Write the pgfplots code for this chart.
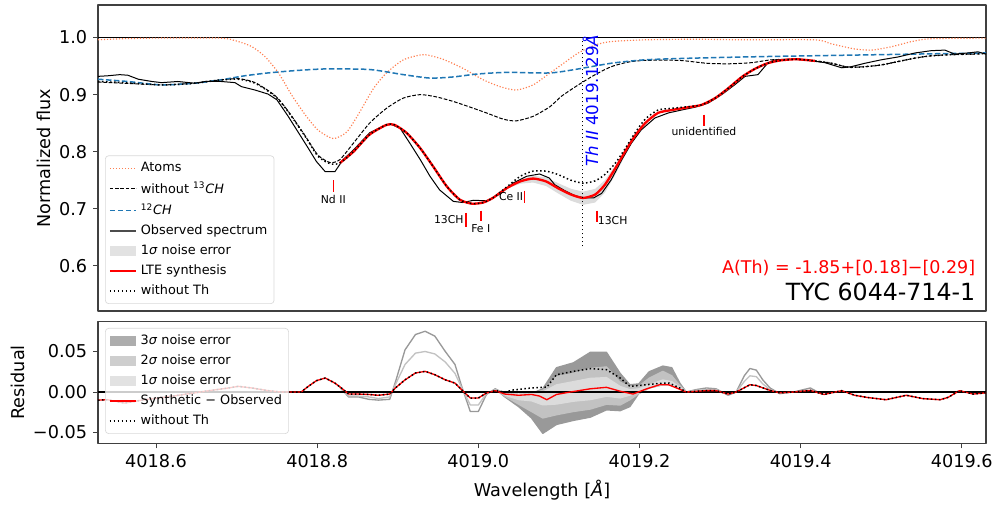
\documentclass[border=0pt]{standalone}
\usepackage{fontspec}
\setmainfont{DejaVu Sans}
\usepackage{pgfplots}
\pgfplotsset{compat=1.18}
\definecolor{coralc}{HTML}{FF7F50}
\definecolor{cblue}{HTML}{1F77B4}
\definecolor{g3}{HTML}{999999}
\definecolor{g2}{HTML}{C2C2C2}
\definecolor{g1}{HTML}{DCDCDC}
\definecolor{axgray}{HTML}{404040}
\definecolor{tickred}{HTML}{FF0000}
\pgfplotsset{
  myline/.style={legend image code/.code={\draw[##1] (0pt,0pt) -- (16pt,0pt);}},
  mypatch/.style={legend image code/.code={\path[##1, draw=none, sharp corners] (0pt,-3pt) rectangle (16pt,3pt);}},
  common/.style={
    scale only axis, width=532.8pt,
    xmin=4018.528, xmax=4019.630,
    tick align=outside, major tick length=3pt,
    axis line style={axgray, line width=0.8pt},
    every tick/.style={axgray, line width=0.6pt},
    tick label style={font=\fontsize{10.6}{12.7}\selectfont},
    label style={font=\fontsize{10.6}{12.7}\selectfont},
    scaled y ticks=false, scaled x ticks=false,
    myline,
    legend cell align=left,
    legend style={font=\fontsize{7.7}{9.2}\selectfont, draw=black!15, rounded corners=2pt,
      fill=white, fill opacity=0.8, text opacity=1, draw opacity=1, inner sep=2pt,
      row sep=0.6pt},
    line join=round,
  },
}
\begin{document}
\begin{tikzpicture}
% ================= TOP PANEL =================
\begin{axis}[common,
  at={(0pt,0pt)}, anchor=south west, height=183.6pt,
  ymin=0.521, ymax=1.057,
  xtick=\empty,
  ytick={0.6,0.7,0.8,0.9,1.0}, yticklabels={0.6,0.7,0.8,0.9,1.0},
  ytick pos=left,
  ylabel={Normalized flux},
  ylabel style={at={(axis description cs:-0.0614,0.5)}, anchor=center},
  legend style={at={(rel axis cs:0.0079,0.0229)}, anchor=south west},
]
\addlegendimage{coralc, line width=0.7pt, dash pattern=on 0.7pt off 1.1pt}
\addlegendentry{Atoms}
\addlegendimage{black, line width=0.6pt, dash pattern=on 2.2pt off 1pt}
\addlegendentry{without \textsuperscript{13}\textit{CH}}
\addlegendimage{cblue, line width=0.9pt, dash pattern=on 3.3pt off 1.5pt}
\addlegendentry{\textsuperscript{12}\textit{CH}}
\addlegendimage{black!70, line width=0.9pt}
\addlegendentry{Observed spectrum}
\addlegendimage{mypatch, fill=g1}
\addlegendentry{1\textit{σ} noise error}
\addlegendimage{red, line width=1.3pt}
\addlegendentry{LTE synthesis}
\addlegendimage{black, line width=0.9pt, dash pattern=on 0.9pt off 1.5pt}
\addlegendentry{without Th}

% line at 1.0
\addplot[black, line width=0.8pt, forget plot] coordinates {(4018.528,1) (4019.630,1)};

% Atoms
\addplot[coralc, line width=0.7pt, dash pattern=on 0.7pt off 1.1pt, forget plot, smooth, tension=0.4] coordinates {
(4018.528,0.996) (4018.560,0.998) (4018.600,0.999) (4018.680,0.999) (4018.702,0.993)
(4018.719,0.984) (4018.735,0.967) (4018.752,0.938) (4018.768,0.900) (4018.785,0.865)
(4018.801,0.838) (4018.820,0.823) (4018.837,0.835) (4018.853,0.870) (4018.870,0.911)
(4018.886,0.938) (4018.907,0.961) (4018.932,0.970) (4018.956,0.962) (4018.981,0.946)
(4019.006,0.926) (4019.027,0.914) (4019.047,0.908) (4019.068,0.917) (4019.089,0.938)
(4019.103,0.952) (4019.124,0.973) (4019.145,0.987) (4019.165,0.993) (4019.207,0.996)
(4019.269,0.997) (4019.330,0.996) (4019.418,0.996) (4019.438,0.989) (4019.467,0.980)
(4019.488,0.978) (4019.513,0.984) (4019.538,0.993) (4019.562,0.998) (4019.630,0.999)};

% without 13CH
\addplot[black, line width=0.6pt, dash pattern=on 2.2pt off 1pt, forget plot, smooth, tension=0.4] coordinates {
(4018.528,0.922) (4018.560,0.920) (4018.607,0.917) (4018.648,0.920) (4018.675,0.925)
(4018.702,0.928) (4018.723,0.921) (4018.748,0.898) (4018.764,0.871) (4018.785,0.828)
(4018.801,0.794) (4018.816,0.781) (4018.828,0.786) (4018.845,0.815) (4018.865,0.850)
(4018.886,0.876) (4018.907,0.894) (4018.928,0.900) (4018.948,0.896) (4018.969,0.888)
(4018.990,0.878) (4019.010,0.868) (4019.031,0.857) (4019.047,0.854) (4019.068,0.862)
(4019.089,0.879) (4019.103,0.897) (4019.124,0.917) (4019.145,0.935) (4019.165,0.949)
(4019.186,0.957) (4019.207,0.960) (4019.249,0.960) (4019.283,0.955) (4019.310,0.954)
(4019.339,0.956) (4019.364,0.961) (4019.395,0.962) (4019.418,0.959) (4019.438,0.955)
(4019.459,0.948) (4019.480,0.949) (4019.500,0.952) (4019.521,0.958) (4019.542,0.964)
(4019.562,0.968) (4019.587,0.970) (4019.612,0.971) (4019.630,0.972)};

% 12CH
\addplot[cblue, line width=0.9pt, dash pattern=on 3.3pt off 1.5pt, forget plot, smooth, tension=0.4] coordinates {
(4018.528,0.927) (4018.565,0.923) (4018.607,0.917) (4018.648,0.920) (4018.681,0.926)
(4018.710,0.933) (4018.739,0.938) (4018.772,0.942) (4018.810,0.945) (4018.865,0.944)
(4018.907,0.935) (4018.940,0.929) (4018.969,0.931) (4018.998,0.936) (4019.035,0.939)
(4019.089,0.938) (4019.124,0.945) (4019.165,0.955) (4019.207,0.961) (4019.269,0.964)
(4019.368,0.967) (4019.630,0.973)};

% 1 sigma band (top)
\addplot[fill=g1, draw=none, forget plot] coordinates {
(4019.035,0.737) (4019.052,0.751) (4019.068,0.758) (4019.084,0.755) (4019.099,0.745)
(4019.115,0.735) (4019.130,0.730) (4019.145,0.735) (4019.157,0.750) (4019.170,0.776)
(4019.182,0.803) (4019.194,0.828)
(4019.194,0.825) (4019.182,0.793) (4019.170,0.760) (4019.157,0.728) (4019.145,0.711)
(4019.130,0.707) (4019.115,0.714) (4019.099,0.727) (4019.084,0.740) (4019.068,0.746)
(4019.052,0.744) (4019.035,0.735)} --cycle;

% Observed
\addplot[black, line width=0.6pt, forget plot] coordinates {
(4018.528,0.932) (4018.540,0.933) (4018.555,0.935) (4018.565,0.934) (4018.578,0.927)
(4018.595,0.923) (4018.607,0.921) (4018.627,0.923) (4018.648,0.920) (4018.661,0.923)
(4018.681,0.923) (4018.698,0.921) (4018.706,0.914) (4018.723,0.908) (4018.739,0.901)
(4018.750,0.891) (4018.764,0.862) (4018.781,0.824) (4018.789,0.806) (4018.799,0.783)
(4018.810,0.765) (4018.822,0.765) (4018.832,0.786) (4018.845,0.803) (4018.865,0.833)
(4018.882,0.845) (4018.890,0.849) (4018.903,0.841) (4018.915,0.815) (4018.928,0.786)
(4018.940,0.757) (4018.952,0.733) (4018.969,0.713) (4018.981,0.711) (4018.994,0.715)
(4019.010,0.714) (4019.027,0.726) (4019.043,0.745) (4019.060,0.757) (4019.076,0.761)
(4019.088,0.754) (4019.095,0.742) (4019.107,0.732) (4019.120,0.723) (4019.132,0.719)
(4019.143,0.719) (4019.153,0.727) (4019.165,0.751) (4019.178,0.786) (4019.190,0.815)
(4019.202,0.838) (4019.219,0.859) (4019.236,0.868) (4019.252,0.873) (4019.269,0.878)
(4019.285,0.885) (4019.302,0.900) (4019.318,0.917) (4019.331,0.932) (4019.347,0.935)
(4019.359,0.955) (4019.368,0.961) (4019.389,0.962) (4019.409,0.960) (4019.430,0.956)
(4019.451,0.947) (4019.463,0.949) (4019.480,0.955) (4019.500,0.961) (4019.521,0.966)
(4019.542,0.973) (4019.562,0.977) (4019.579,0.978) (4019.591,0.971) (4019.608,0.973)
(4019.620,0.975) (4019.630,0.971)};

% LTE synthesis
\addplot[red, line width=1.4pt, forget plot, smooth, tension=0.4] coordinates {
(4018.828,0.780) (4018.845,0.800) (4018.865,0.830) (4018.886,0.847) (4018.896,0.847)
(4018.911,0.833) (4018.928,0.806) (4018.944,0.774) (4018.961,0.739) (4018.977,0.716)
(4018.992,0.709) (4019.006,0.711) (4019.018,0.719) (4019.035,0.736) (4019.052,0.748)
(4019.068,0.753) (4019.084,0.748) (4019.099,0.736) (4019.115,0.725) (4019.130,0.719)
(4019.145,0.725) (4019.157,0.742) (4019.170,0.771) (4019.182,0.800) (4019.194,0.827)
(4019.207,0.850) (4019.223,0.868) (4019.240,0.873) (4019.261,0.878) (4019.277,0.882)
(4019.294,0.894) (4019.310,0.911) (4019.327,0.931) (4019.343,0.945) (4019.359,0.955)
(4019.375,0.960) (4019.395,0.962) (4019.418,0.959)};

% without Th
\addplot[black, line width=0.9pt, dash pattern=on 0.9pt off 1.5pt, forget plot, smooth, tension=0.4] coordinates {
(4018.528,0.923) (4018.560,0.921) (4018.607,0.917) (4018.648,0.920) (4018.675,0.925)
(4018.702,0.927) (4018.723,0.920) (4018.748,0.897) (4018.764,0.870) (4018.785,0.827)
(4018.801,0.792) (4018.816,0.779) (4018.828,0.780) (4018.845,0.800) (4018.865,0.830)
(4018.886,0.847) (4018.896,0.847) (4018.911,0.833) (4018.928,0.806) (4018.944,0.774)
(4018.961,0.739) (4018.977,0.716) (4018.992,0.709) (4019.006,0.711) (4019.018,0.719)
(4019.035,0.738) (4019.052,0.757) (4019.068,0.766) (4019.084,0.766) (4019.099,0.760)
(4019.115,0.750) (4019.130,0.745) (4019.145,0.749) (4019.157,0.760) (4019.170,0.780)
(4019.182,0.805) (4019.194,0.832) (4019.207,0.857) (4019.223,0.873) (4019.240,0.876)
(4019.261,0.879) (4019.277,0.882) (4019.294,0.894) (4019.310,0.911) (4019.327,0.931)
(4019.343,0.945) (4019.359,0.955) (4019.375,0.960) (4019.395,0.962) (4019.418,0.959)
(4019.438,0.955) (4019.459,0.948) (4019.480,0.949) (4019.500,0.952) (4019.521,0.958)
(4019.542,0.964) (4019.562,0.968) (4019.587,0.970) (4019.612,0.971) (4019.630,0.972)};

% Th II line
\addplot[black, line width=0.9pt, dash pattern=on 0.9pt off 1.5pt, forget plot] coordinates {(4019.129,0.634) (4019.129,0.998)};
\node[rotate=90, anchor=north west, inner sep=0pt, text=blue, font=\fontsize{10}{12}\selectfont]
  at (axis cs:4019.129,0.773) {\textit{Th II} 4019.129\textit{Å}};

% line identification ticks
\addplot[tickred, line width=0.9pt, forget plot] coordinates {(4018.8205,0.750) (4018.8205,0.729)};
\addplot[tickred, line width=0.9pt, forget plot] coordinates {(4018.9845,0.693) (4018.9845,0.668)};
\addplot[tickred, line width=0.9pt, forget plot] coordinates {(4019.003,0.697) (4019.003,0.678)};
\addplot[tickred, line width=0.9pt, forget plot] coordinates {(4019.057,0.732) (4019.057,0.711)};
\addplot[tickred, line width=0.9pt, forget plot] coordinates {(4019.147,0.697) (4019.147,0.677)};
\addplot[tickred, line width=0.9pt, forget plot] coordinates {(4019.280,0.865) (4019.280,0.845)};
\begin{scope}[every node/.style={inner sep=0pt, font=\fontsize{6.5}{7.8}\selectfont}]
\node[anchor=center] at (axis cs:4018.820,0.716) {Nd II};
\node[anchor=east] at (axis cs:4018.982,0.682) {13CH};
\node[anchor=center] at (axis cs:4019.003,0.666) {Fe I};
\node[anchor=east] at (axis cs:4019.056,0.722) {Ce II};
\node[anchor=west] at (axis cs:4019.148,0.679) {13CH};
\node[anchor=center] at (axis cs:4019.280,0.836) {unidentified};
\end{scope}
\node[anchor=east, inner sep=0pt, text=red, font=\fontsize{10.5}{12.6}\selectfont]
  at (axis cs:4019.617,0.597) {A(Th) = -1.85+[0.18]−[0.29]};
\node[anchor=east, inner sep=0pt, font=\fontsize{14.2}{17}\selectfont]
  at (axis cs:4019.617,0.554) {TYC 6044-714-1};
\end{axis}

% ================= BOTTOM PANEL =================
\begin{axis}[common,
  at={(0pt,-6.4pt)}, anchor=north west, height=73pt,
  ymin=-0.0633, ymax=0.0868,
  xtick={4018.6,4018.8,4019.0,4019.2,4019.4,4019.6},
  xticklabels={4018.6,4018.8,4019.0,4019.2,4019.4,4019.6},
  ytick={-0.05,0,0.05}, yticklabels={−0.05,0.00,0.05},
  xtick pos=bottom, ytick pos=left,
  xlabel={Wavelength [\textit{Å}]},
  xlabel style={at={(axis description cs:0.5,-0.384)}, anchor=center},
  ylabel={Residual},
  ylabel style={at={(axis description cs:-0.0907,0.5)}, anchor=center},
  legend style={at={(rel axis cs:0.0079,0.948)}, anchor=north west},
]
\addlegendimage{mypatch, fill=g3}
\addlegendentry{3\textit{σ} noise error}
\addlegendimage{mypatch, fill=g2}
\addlegendentry{2\textit{σ} noise error}
\addlegendimage{mypatch, fill=g1}
\addlegendentry{1\textit{σ} noise error}
\addlegendimage{red, line width=1.2pt}
\addlegendentry{Synthetic − Observed}
\addlegendimage{black, line width=0.9pt, dash pattern=on 0.9pt off 1.5pt}
\addlegendentry{without Th}

% 3 sigma
\addplot[fill=g3, draw=g3, line width=0.8pt, forget plot] coordinates {
(4018.828,0.006) (4018.839,-0.006) (4018.851,-0.006) (4018.864,-0.009) (4018.876,-0.010)
(4018.890,-0.009) (4018.897,0.012) (4018.909,0.052) (4018.922,0.071) (4018.934,0.075)
(4018.946,0.069) (4018.959,0.050) (4018.971,0.034) (4018.979,0.008) (4018.990,-0.024)
(4019.000,-0.024) (4019.010,-0.003) (4019.021,0.004) (4019.033,-0.002) (4019.050,-0.003)
(4019.066,-0.002) (4019.080,0.004) (4019.097,0.030) (4019.118,0.036) (4019.139,0.049)
(4019.159,0.049) (4019.176,0.023) (4019.188,0.009) (4019.199,0.010) (4019.212,0.025)
(4019.229,0.032) (4019.240,0.030) (4019.250,0.011) (4019.258,0.0)
(4019.250,0.004) (4019.240,0.009) (4019.229,0.009) (4019.212,0.005) (4019.199,-0.002)
(4019.188,-0.018) (4019.176,-0.023) (4019.159,-0.022) (4019.139,-0.031) (4019.118,-0.035)
(4019.097,-0.040) (4019.080,-0.051) (4019.066,-0.032) (4019.050,-0.018) (4019.033,-0.006)
(4019.021,0.004) (4019.010,-0.003) (4019.000,-0.024) (4018.990,-0.024) (4018.979,0.008)
(4018.971,0.034) (4018.959,0.050) (4018.946,0.069) (4018.934,0.075) (4018.922,0.071)
(4018.909,0.052) (4018.897,0.012) (4018.890,-0.009) (4018.876,-0.010) (4018.864,-0.009)
(4018.851,-0.006) (4018.839,-0.006)} --cycle;
\addplot[g3, line width=0.8pt, forget plot] coordinates {
(4019.258,0.0) (4019.270,0.003) (4019.283,0.005) (4019.295,0.004) (4019.310,-0.004)
(4019.320,0.0) (4019.330,0.020) (4019.337,0.029) (4019.345,0.027) (4019.353,0.015)
(4019.362,0.005) (4019.374,-0.002) (4019.391,0.0) (4019.412,0.005) (4019.425,-0.002)};

% 2 sigma
\addplot[fill=g2, draw=g2, line width=0.8pt, forget plot] coordinates {
(4018.828,0.006) (4018.839,-0.005) (4018.851,-0.005) (4018.864,-0.006) (4018.876,-0.008)
(4018.890,-0.006) (4018.897,0.009) (4018.909,0.034) (4018.922,0.048) (4018.934,0.050)
(4018.946,0.047) (4018.959,0.037) (4018.971,0.023) (4018.979,0.006) (4018.990,-0.016)
(4019.000,-0.016) (4019.010,-0.002) (4019.021,0.003) (4019.033,-0.002) (4019.050,-0.003)
(4019.066,-0.002) (4019.080,0.002) (4019.097,0.019) (4019.118,0.023) (4019.139,0.029)
(4019.159,0.031) (4019.176,0.012) (4019.188,0.007) (4019.199,0.007) (4019.212,0.017)
(4019.229,0.0255) (4019.240,0.020) (4019.250,0.008) (4019.258,0.0)
(4019.250,0.004) (4019.240,0.009) (4019.229,0.009) (4019.212,0.005) (4019.199,-0.002)
(4019.188,-0.0095) (4019.176,-0.016) (4019.159,-0.015) (4019.139,-0.021) (4019.118,-0.024)
(4019.097,-0.028) (4019.080,-0.032) (4019.066,-0.024) (4019.050,-0.015) (4019.033,-0.005)
(4019.021,0.003) (4019.010,-0.002) (4019.000,-0.016) (4018.990,-0.016) (4018.979,0.006)
(4018.971,0.023) (4018.959,0.037) (4018.946,0.047) (4018.934,0.050) (4018.922,0.048)
(4018.909,0.034) (4018.897,0.009) (4018.890,-0.006) (4018.876,-0.008) (4018.864,-0.006)
(4018.851,-0.005) (4018.839,-0.005)} --cycle;
\addplot[g2, line width=0.8pt, forget plot] coordinates {
(4019.258,0.0) (4019.270,0.002) (4019.283,0.003) (4019.295,0.003) (4019.310,-0.003)
(4019.320,0.0) (4019.330,0.013) (4019.337,0.020) (4019.345,0.019) (4019.353,0.010)
(4019.362,0.003) (4019.374,-0.001)};

% 1 sigma
\addplot[fill=g1, draw=g1, line width=0.6pt, forget plot] coordinates {
(4019.033,-0.002) (4019.050,-0.003) (4019.066,-0.002) (4019.080,0.0) (4019.097,0.009)
(4019.118,0.013) (4019.139,0.017) (4019.159,0.018) (4019.176,0.007) (4019.188,0.003)
(4019.199,0.004) (4019.212,0.009) (4019.229,0.015) (4019.240,0.013) (4019.250,0.006)
(4019.258,0.0)
(4019.250,0.004) (4019.240,0.009) (4019.229,0.009) (4019.212,0.005) (4019.199,-0.001)
(4019.188,-0.004) (4019.176,-0.0074) (4019.159,-0.0053) (4019.139,-0.0095) (4019.118,-0.0115)
(4019.097,-0.015) (4019.080,-0.016) (4019.066,-0.011) (4019.050,-0.0095) (4019.033,-0.004)} --cycle;

% zero line
\addplot[black, line width=1.1pt, forget plot] coordinates {(4018.528,0) (4019.630,0)};

% Synthetic - Observed
\addplot[red, line width=0.8pt, forget plot] coordinates {
(4018.528,-0.0099) (4018.540,-0.0095) (4018.561,-0.0136) (4018.586,-0.0095) (4018.628,-0.004)
(4018.661,0.001) (4018.690,0.005) (4018.702,0.007) (4018.719,0.005) (4018.739,0.0017)
(4018.755,0.0) (4018.780,0.0) (4018.789,0.007) (4018.799,0.014) (4018.810,0.0173)
(4018.822,0.011) (4018.830,0.005) (4018.839,-0.0025) (4018.851,-0.0025) (4018.864,-0.003)
(4018.876,-0.004) (4018.890,-0.0025) (4018.897,0.005) (4018.909,0.015) (4018.922,0.0235)
(4018.934,0.0255) (4018.946,0.0214) (4018.959,0.015) (4018.971,0.011) (4018.979,0.003)
(4018.990,-0.0074) (4019.000,-0.0074) (4019.010,-0.0012) (4019.021,0.0017) (4019.033,-0.0025)
(4019.050,-0.004) (4019.066,-0.003) (4019.076,-0.005) (4019.085,-0.0095) (4019.097,-0.003)
(4019.114,0.0) (4019.139,0.004) (4019.159,0.0058) (4019.176,0.001) (4019.192,-0.0025)
(4019.209,0.004) (4019.225,0.009) (4019.236,0.009) (4019.246,0.005) (4019.258,0.0)
(4019.283,0.0017) (4019.295,0.0017) (4019.310,-0.0025) (4019.320,0.0) (4019.337,0.009)
(4019.345,0.008) (4019.362,0.002) (4019.374,-0.001) (4019.391,0.0) (4019.412,0.002)
(4019.429,-0.003) (4019.451,0.0017) (4019.467,-0.004) (4019.482,-0.0066) (4019.506,-0.0095)
(4019.531,-0.004) (4019.552,-0.0082) (4019.573,-0.0095) (4019.583,-0.0066) (4019.597,0.0017)
(4019.614,-0.0025) (4019.630,-0.001)};

% without Th residual
\addplot[black, line width=0.9pt, dash pattern=on 0.9pt off 1.5pt, forget plot] coordinates {
(4018.528,-0.0099) (4018.540,-0.0095) (4018.561,-0.0136) (4018.586,-0.0095) (4018.628,-0.004)
(4018.661,0.001) (4018.690,0.005) (4018.702,0.007) (4018.719,0.005) (4018.739,0.0017)
(4018.755,0.0) (4018.780,0.0) (4018.789,0.007) (4018.799,0.014) (4018.810,0.0173)
(4018.822,0.011) (4018.830,0.005) (4018.839,-0.0025) (4018.851,-0.0025) (4018.864,-0.003)
(4018.876,-0.004) (4018.890,-0.0025) (4018.897,0.005) (4018.909,0.015) (4018.922,0.0235)
(4018.934,0.0255) (4018.946,0.0214) (4018.959,0.015) (4018.971,0.011) (4018.979,0.003)
(4018.990,-0.0074) (4019.000,-0.0074) (4019.010,-0.0012) (4019.021,0.0017) (4019.033,0.0)
(4019.043,0.0025) (4019.066,0.005) (4019.085,0.006) (4019.097,0.0214) (4019.118,0.0255)
(4019.139,0.0288) (4019.159,0.0276) (4019.176,0.0173) (4019.188,0.007) (4019.199,0.008)
(4019.216,0.0098) (4019.229,0.011) (4019.237,0.011) (4019.250,0.005) (4019.258,0.0)
(4019.283,0.0017) (4019.295,0.0017) (4019.310,-0.0025) (4019.320,0.0) (4019.337,0.009)
(4019.345,0.008) (4019.362,0.002) (4019.374,-0.001) (4019.391,0.0) (4019.412,0.002)
(4019.429,-0.003) (4019.451,0.0017) (4019.467,-0.004) (4019.482,-0.0066) (4019.506,-0.0095)
(4019.531,-0.004) (4019.552,-0.0082) (4019.573,-0.0095) (4019.583,-0.0066) (4019.597,0.0017)
(4019.614,-0.0025) (4019.630,-0.001)};
\end{axis}
\pgfresetboundingbox
\path[use as bounding box] (-58.8pt,-117pt) rectangle (539.4pt,186.6pt);
\end{tikzpicture}
\end{document}
